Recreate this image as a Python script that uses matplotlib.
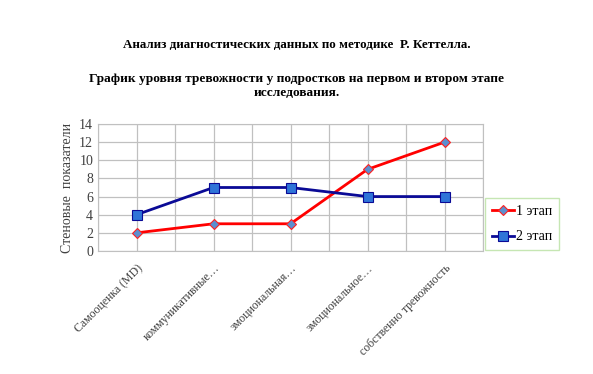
import matplotlib.pyplot as plt

categories = ["Самооценка (MD)", "коммуникативные…", "эмоциональная…",
              "эмоциональное…", "собственно тревожность"]
stage1 = [2, 3, 3, 9, 12]
stage2 = [4, 7, 7, 6, 6]
yticks = [0, 2, 4, 6, 8, 10, 12, 14]

plt.rcParams['font.family'] = ['Liberation Serif', 'DejaVu Serif']

fig = plt.figure(figsize=(5.93, 3.74), dpi=100)
ax = fig.add_axes([98 / 593, 1 - 251 / 374, 385 / 593, 127 / 374])

x = list(range(len(categories)))
ax.plot(x, stage1, color='#ff0000', lw=2, marker='D', ms=5,
        mfc='#5b8fd0', mec='#ff2020', mew=0.8, label='1 этап', zorder=3)
ax.plot(x, stage2, color='#0a0a96', lw=2, marker='s', ms=7,
        mfc='#2f74d8', mec='#0a0a96', mew=0.8, label='2 этап', zorder=3)

# axes, ticks, grid
ax.set_xlim(-0.5, 4.5)
ax.set_ylim(0, 14)
ax.set_yticks(yticks)
ax.set_xticks(x)
ax.set_xticklabels(categories, rotation=45, ha='right',
                   rotation_mode='anchor', fontsize=8.5, color='#404040')
ax.set_xticks([i - 0.5 for i in range(6)], minor=True)
ax.tick_params(axis='x', which='both', length=0, pad=8)
ax.tick_params(axis='y', length=0, labelsize=10, colors='#404040')
ax.grid(True, which='both', color='#c0c0c0', lw=0.9)
for s in ax.spines.values():
    s.set_color('#c0c0c0')
ax.set_ylabel('Стеновые  показатели', fontsize=10, color='#404040', labelpad=4)

# legend
leg = ax.legend(loc='upper left', bbox_to_anchor=(485 / 593, 1 - 198 / 374),
                bbox_transform=fig.transFigure, frameon=True, fancybox=False,
                fontsize=10, handlelength=1.6, borderpad=0.5, labelspacing=0.9,
                handletextpad=0.15, borderaxespad=0)
leg.get_frame().set_edgecolor('#b8e0a0')
leg.get_frame().set_linewidth(1.0)

# titles
fig.text(0.5, 1 - 45 / 374, 'Анализ диагностических данных по методике  Р. Кеттелла.',
         ha='center', va='center', fontsize=9.4, fontweight='bold')
fig.text(0.5, 1 - 86 / 374,
         'График уровня тревожности у подростков на первом и втором этапе\nисследования.',
         ha='center', va='center', fontsize=9.6, fontweight='bold', linespacing=1.2)

fig.savefig('out.png', dpi=100)
